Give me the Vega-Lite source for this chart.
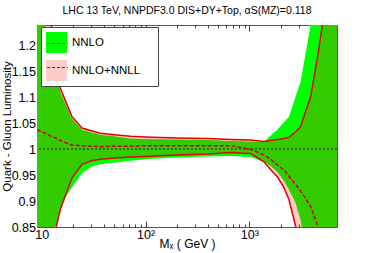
{
  "$schema": "https://vega.github.io/schema/vega-lite/v6.json",
  "width": 300,
  "height": 202,
  "autosize": {"type": "none"},
  "padding": {"left": 37, "top": 25, "right": 37, "bottom": 26},
  "title": {"text": "LHC 13 TeV, NNPDF3.0 DIS+DY+Top, αS(MZ)=0.118", "fontSize": 10.5, "fontWeight": "normal", "font": "Liberation Sans", "color": "#000", "anchor": "middle", "offset": 8},
  "config": {
    "font": "Liberation Sans",
    "view": {"stroke": "#555", "strokeWidth": 1},
    "axis": {"labelFont": "Liberation Sans", "titleFont": "Liberation Sans", "labelColor": "#000", "titleColor": "#000", "tickColor": "#444", "grid": false, "domain": false, "titleFontWeight": "normal", "labelOverlap": false, "tickCount": 100},
    "legend": {"labelFont": "Liberation Sans", "labelColor": "#000"}
  },
  "data": {"values": [
    {"M": 9, "nnlo_lo": 0.8, "nnlo_hi": 1.3, "nnll_lo": 0.8, "nnll_hi": 1.3, "nnll_c": 1.038},
    {"M": 10.8, "nnlo_lo": 0.8, "nnlo_hi": 1.241, "nnll_lo": 0.8, "nnll_hi": 1.3, "nnll_c": 1.031},
    {"M": 12.35, "nnlo_lo": 0.8, "nnlo_hi": 1.189, "nnll_lo": 0.8, "nnll_hi": 1.241, "nnll_c": 1.025},
    {"M": 13.5, "nnlo_lo": 0.85, "nnlo_hi": 1.154, "nnll_lo": 0.842, "nnll_hi": 1.187, "nnll_c": 1.022},
    {"M": 15.1, "nnlo_lo": 0.882, "nnlo_hi": 1.111, "nnll_lo": 0.884, "nnll_hi": 1.118, "nnll_c": 1.017},
    {"M": 16.9, "nnlo_lo": 0.907, "nnlo_hi": 1.088, "nnll_lo": 0.911, "nnll_hi": 1.094, "nnll_c": 1.013},
    {"M": 19.6, "nnlo_lo": 0.927, "nnlo_hi": 1.059, "nnll_lo": 0.945, "nnll_hi": 1.063, "nnll_c": 1.008},
    {"M": 24.4, "nnlo_lo": 0.954, "nnlo_hi": 1.038, "nnll_lo": 0.971, "nnll_hi": 1.041, "nnll_c": 1.007},
    {"M": 30, "nnlo_lo": 0.967, "nnlo_hi": 1.033, "nnll_lo": 0.978, "nnll_hi": 1.036, "nnll_c": 1.006},
    {"M": 36.7, "nnlo_lo": 0.971, "nnlo_hi": 1.028, "nnll_lo": 0.981, "nnll_hi": 1.031, "nnll_c": 1.005},
    {"M": 50, "nnlo_lo": 0.974, "nnlo_hi": 1.025, "nnll_lo": 0.983, "nnll_hi": 1.028, "nnll_c": 1.006},
    {"M": 71.5, "nnlo_lo": 0.978, "nnlo_hi": 1.021, "nnll_lo": 0.985, "nnll_hi": 1.025, "nnll_c": 1.006},
    {"M": 100, "nnlo_lo": 0.981, "nnlo_hi": 1.02, "nnll_lo": 0.986, "nnll_hi": 1.024, "nnll_c": 1.007},
    {"M": 200, "nnlo_lo": 0.984, "nnlo_hi": 1.019, "nnll_lo": 0.989, "nnll_hi": 1.022, "nnll_c": 1.007},
    {"M": 400, "nnlo_lo": 0.986, "nnlo_hi": 1.018, "nnll_lo": 0.991, "nnll_hi": 1.021, "nnll_c": 1.007},
    {"M": 660, "nnlo_lo": 0.987, "nnlo_hi": 1.016, "nnll_lo": 0.994, "nnll_hi": 1.019, "nnll_c": 1.007},
    {"M": 1029, "nnlo_lo": 0.985, "nnlo_hi": 1.015, "nnll_lo": 0.992, "nnll_hi": 1.018, "nnll_c": 1.0},
    {"M": 1384, "nnlo_lo": 0.976, "nnlo_hi": 1.014, "nnll_lo": 0.976, "nnll_hi": 1.015, "nnll_c": 0.989},
    {"M": 1600, "nnlo_lo": 0.968, "nnlo_hi": 1.026, "nnll_lo": 0.961, "nnll_hi": 1.017, "nnll_c": 0.981},
    {"M": 1862, "nnlo_lo": 0.956, "nnlo_hi": 1.038, "nnll_lo": 0.947, "nnll_hi": 1.019, "nnll_c": 0.97},
    {"M": 2158, "nnlo_lo": 0.939, "nnlo_hi": 1.052, "nnll_lo": 0.926, "nnll_hi": 1.021, "nnll_c": 0.96},
    {"M": 2411, "nnlo_lo": 0.922, "nnlo_hi": 1.063, "nnll_lo": 0.903, "nnll_hi": 1.023, "nnll_c": 0.948},
    {"M": 2798, "nnlo_lo": 0.896, "nnlo_hi": 1.102, "nnll_lo": 0.851, "nnll_hi": 1.034, "nnll_c": 0.932},
    {"M": 3128, "nnlo_lo": 0.863, "nnlo_hi": 1.131, "nnll_lo": 0.8, "nnll_hi": 1.044, "nnll_c": 0.919},
    {"M": 3500, "nnlo_lo": 0.8, "nnlo_hi": 1.187, "nnll_lo": 0.8, "nnll_hi": 1.074, "nnll_c": 0.905},
    {"M": 3909, "nnlo_lo": 0.8, "nnlo_hi": 1.241, "nnll_lo": 0.8, "nnll_hi": 1.102, "nnll_c": 0.889},
    {"M": 4594, "nnlo_lo": 0.8, "nnlo_hi": 1.3, "nnll_lo": 0.8, "nnll_hi": 1.184, "nnll_c": 0.851},
    {"M": 5070, "nnlo_lo": 0.8, "nnlo_hi": 1.3, "nnll_lo": 0.8, "nnll_hi": 1.241, "nnll_c": 0.827},
    {"M": 7000, "nnlo_lo": 0.8, "nnlo_hi": 1.3, "nnll_lo": 0.8, "nnll_hi": 1.3, "nnll_c": null}
  ]},
  "resolve": {"axis": {"x": "independent"}},
  "layer": [
    {
      "mark": {"type": "area", "clip": true},
      "encoding": {
        "x": {"field": "M", "type": "quantitative",
          "scale": {"type": "log", "domain": [9, 7000], "nice": false},
          "axis": {"orient": "bottom", "values": [10, 100, 1000], "tickCount": 100, "labelExpr": "datum.value == 10 ? '10' : datum.value == 100 ? '10²' : '10³'", "tickSize": -6, "labelPadding": 17, "labelBaseline": "alphabetic", "labelFontSize": 12.5, "labelFlush": false, "title": "Mₓ ( GeV )", "titleFontSize": 12, "titleBaseline": "alphabetic", "titleY": 20}},
        "y": {"field": "nnlo_hi", "type": "quantitative",
          "scale": {"domain": [0.85, 1.24], "nice": false, "zero": false},
          "axis": {"values": [0.85, 0.9, 0.95, 1, 1.05, 1.1, 1.15, 1.2], "tickCount": 100, "format": ".2~f", "ticks": false, "labelPadding": 1.5, "labelFontSize": 12.5, "labelFlush": false, "labelBound": false, "title": "Quark - Gluon Luminosity", "titleFontSize": 11.5, "titleBaseline": "alphabetic", "titleX": -27}},
        "y2": {"field": "nnlo_lo"},
        "fill": {"datum": "NNLO",
          "scale": {"domain": ["NNLO", "NNLO+NNLL"], "range": ["#00ff00", "rgba(255,0,0,0.2)"]},
          "legend": {"orient": "none", "legendX": 4, "legendY": 2, "zindex": 1, "title": null, "padding": 5, "symbolType": "square", "symbolSize": 441, "rowPadding": 7, "labelOffset": 5, "labelFontSize": 11.5, "labelExpr": "datum.label + '\u00a0\u2800'", "fillColor": "white", "strokeColor": "#444", "symbolStrokeWidth": 0}}
      }
    },
    {
      "mark": {"type": "area", "clip": true},
      "encoding": {
        "x": {"field": "M", "type": "quantitative",
          "axis": {"orient": "bottom", "values": [20, 30, 40, 50, 60, 70, 80, 90, 200, 300, 400, 500, 600, 700, 800, 900, 2000, 3000, 4000, 5000, 6000], "tickCount": 100, "labels": false, "tickSize": -3, "title": null}},
        "y": {"field": "nnll_hi", "type": "quantitative"},
        "y2": {"field": "nnll_lo"},
        "fill": {"datum": "NNLO+NNLL"}
      }
    },
    {
      "mark": {"type": "rule", "strokeDash": [2, 2], "strokeWidth": 1},
      "encoding": {
        "y": {"datum": 1},
        "stroke": {"datum": "NNLO",
          "scale": {"domain": ["NNLO", "NNLO+NNLL"], "range": ["#3d6b2a", "#cc0000"]},
          "legend": {"orient": "top-left", "offset": 2, "zindex": 2, "title": null, "padding": 5, "symbolOffset": 2, "symbolType": "stroke", "symbolSize": 441, "rowPadding": 7, "labelOffset": 5, "labelFontSize": 11.5, "labelExpr": "''", "symbolDash": [3, 2], "symbolStrokeWidth": 1.2}}
      }
    },
    {
      "mark": {"type": "line", "clip": true, "color": "#e60000", "strokeWidth": 1.5},
      "encoding": {
        "x": {"field": "M", "type": "quantitative",
          "axis": {"orient": "top", "values": [10, 100, 1000], "tickCount": 100, "labels": false, "tickSize": -6, "title": null}},
        "y": {"field": "nnll_hi", "type": "quantitative"}
      }
    },
    {
      "mark": {"type": "line", "clip": true, "color": "#e60000", "strokeWidth": 1.5},
      "encoding": {
        "x": {"field": "M", "type": "quantitative",
          "axis": {"orient": "top", "values": [20, 30, 40, 50, 60, 70, 80, 90, 200, 300, 400, 500, 600, 700, 800, 900, 2000, 3000, 4000, 5000, 6000], "tickCount": 100, "labels": false, "tickSize": -3, "title": null}},
        "y": {"field": "nnll_lo", "type": "quantitative"}
      }
    },
    {
      "mark": {"type": "line", "clip": true, "strokeDash": [4, 2], "strokeWidth": 1.5},
      "encoding": {
        "x": {"field": "M", "type": "quantitative", "axis": null},
        "y": {"field": "nnll_c", "type": "quantitative"},
        "stroke": {"datum": "NNLO+NNLL"}
      }
    }
  ]
}
